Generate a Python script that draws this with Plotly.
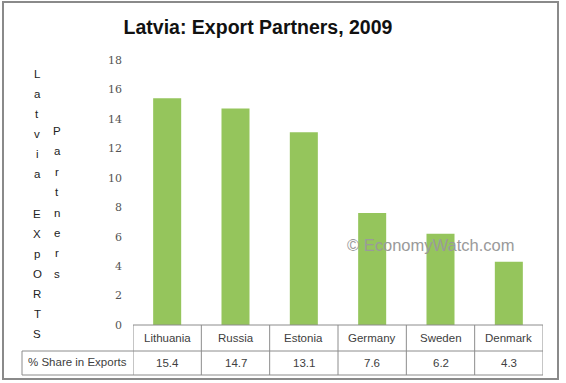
import plotly.graph_objects as go

categories = ["Lithuania", "Russia", "Estonia", "Germany", "Sweden", "Denmark"]
shares = [15.4, 14.7, 13.1, 7.6, 6.2, 4.3]
value_labels = ["15.4", "14.7", "13.1", "7.6", "6.2", "4.3"]
y_ticks = [0, 2, 4, 6, 8, 10, 12, 14, 16, 18]
col1_letters = ["L", "a", "t", "v", "i", "a", "", "E", "X", "p", "O", "R", "T", "S"]
col2_letters = ["P", "a", "r", "t", "n", "e", "r", "s"]
row_header = "% Share in Exports"

W, H = 566, 383
ML, MR, MT, MB = 133, 23, 60, 58
PW, PH = W - ML - MR, H - MT - MB


def px_x(px):
    return (px - ML) / PW


def px_y(py):
    return (H - MB - py) / PH


fig = go.Figure()
fig.add_trace(go.Bar(
    x=categories, y=shares,
    marker=dict(color="#95C55C", line=dict(width=0)),
    width=0.41,
    hoverinfo="x+y",
))

font_main = "Liberation Sans"
txt_col = "#404040"
line_col = "#8c8c8c"

shapes = []
annotations = []

y_top = 0
y_mid = px_y(351)
y_bot = px_y(375)
for i in range(len(categories) + 1):
    shapes.append(dict(type="line", xref="x", yref="paper",
                       x0=i - 0.5, x1=i - 0.5, y0=y_top, y1=y_bot,
                       line=dict(color=line_col, width=1)))
shapes.append(dict(type="line", xref="paper", yref="paper", x0=0, x1=1, y0=0, y1=0,
                   line=dict(color=line_col, width=1)))
shapes.append(dict(type="line", xref="paper", yref="paper", x0=px_x(22), x1=1, y0=y_mid, y1=y_mid,
                   line=dict(color=line_col, width=1)))
shapes.append(dict(type="line", xref="paper", yref="paper", x0=px_x(22), x1=1, y0=y_bot, y1=y_bot,
                   line=dict(color=line_col, width=1)))
shapes.append(dict(type="line", xref="paper", yref="paper", x0=px_x(22), x1=px_x(22), y0=y_mid, y1=y_bot,
                   line=dict(color=line_col, width=1)))
shapes.append(dict(type="rect", xref="paper", yref="paper",
                   x0=px_x(3), x1=px_x(558), y0=px_y(379), y1=px_y(2),
                   line=dict(color="#8a8a8a", width=2)))

for i, (c, v) in enumerate(zip(categories, value_labels)):
    annotations.append(dict(x=i, xref="x", y=px_y(338), yref="paper", text=c,
                            showarrow=False, font=dict(family=font_main, size=11.5, color=txt_col),
                            xanchor="center", yanchor="middle"))
    annotations.append(dict(x=i, xref="x", y=px_y(363), yref="paper", text=v,
                            showarrow=False, font=dict(family=font_main, size=11.5, color=txt_col),
                            xanchor="center", yanchor="middle"))
annotations.append(dict(x=px_x(26), xref="paper", y=px_y(362), yref="paper", text=row_header,
                        showarrow=False, font=dict(family=font_main, size=11.5, color=txt_col),
                        xanchor="left", yanchor="middle"))

for k, ch in enumerate(col1_letters):
    if ch:
        annotations.append(dict(x=px_x(37), xref="paper", y=px_y(74 + 20 * k), yref="paper", text=ch,
                                showarrow=False, font=dict(family=font_main, size=11.5, color="#222"),
                                xanchor="center", yanchor="middle"))
for k, ch in enumerate(col2_letters):
    annotations.append(dict(x=px_x(57), xref="paper", y=px_y(131 + 20.4 * k), yref="paper", text=ch,
                            showarrow=False, font=dict(family=font_main, size=11.5, color="#222"),
                            xanchor="center", yanchor="middle"))

annotations.append(dict(x=px_x(430), xref="paper", y=px_y(245), yref="paper",
                        text="© EconomyWatch.com", showarrow=False,
                        font=dict(family=font_main, size=16.5, color="#9a9a9a"),
                        xanchor="center", yanchor="middle"))

fig.update_layout(
    width=W, height=H,
    margin=dict(l=ML, r=MR, t=MT, b=MB),
    paper_bgcolor="white", plot_bgcolor="white",
    showlegend=False,
    title=dict(text="<b>Latvia: Export Partners, 2009</b>", x=258 / W, xanchor="center",
               y=1 - 27 / H, yanchor="middle",
               font=dict(family=font_main, size=19.5, color="#111")),
    xaxis=dict(showticklabels=False, showgrid=False, zeroline=False, showline=False,
               ticks="", range=[-0.5, 5.5]),
    yaxis=dict(range=[0, 18], tickvals=y_ticks, showgrid=False, zeroline=False,
               showline=False, ticks="", ticklabelstandoff=10,
               tickfont=dict(family="DejaVu Serif", size=11, color="#555")),
    shapes=shapes,
    annotations=annotations,
    bargap=0.59,
)

fig.write_html("out.html", config={"displayModeBar": False},
               post_script="document.body.style.margin='0';document.body.style.overflow='hidden';")
